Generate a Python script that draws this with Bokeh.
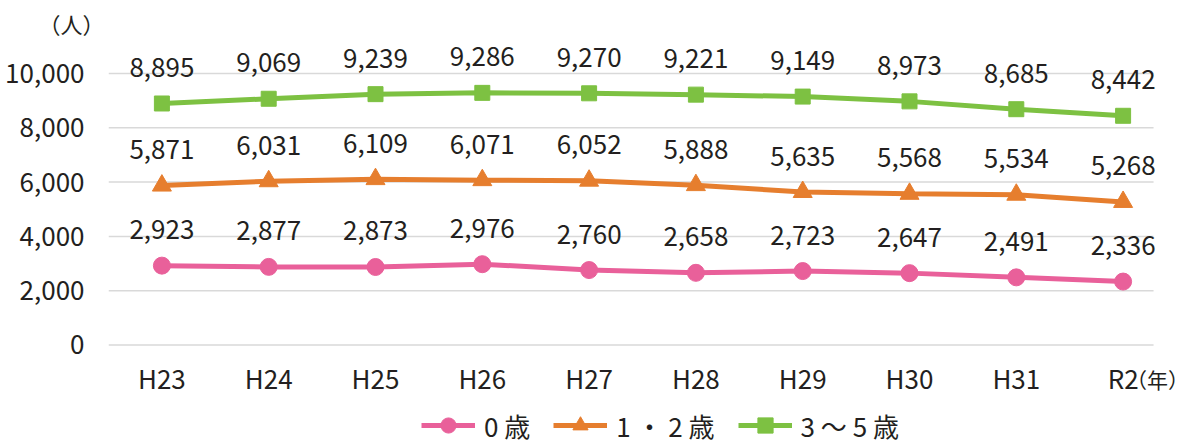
from bokeh.plotting import figure
from bokeh.models import Range1d, FixedTicker, Legend, LegendItem, NumeralTickFormatter
from bokeh.core.properties import value
from bokeh.embed import file_html
from bokeh.resources import INLINE

years = ["H23", "H24", "H25", "H26", "H27", "H28", "H29", "H30", "H31", "R2"]
age0 = [2923, 2877, 2873, 2976, 2760, 2658, 2723, 2647, 2491, 2336]
age12 = [5871, 6031, 6109, 6071, 6052, 5888, 5635, 5568, 5534, 5268]
age35 = [8895, 9069, 9239, 9286, 9270, 9221, 9149, 8973, 8685, 8442]
series_names = ["0 歳", "1 ・ 2 歳", "3 ～ 5 歳"]
y_ticks = [0, 2000, 4000, 6000, 8000, 10000]
y_unit = "（人）"
x_unit = "（年）"

FONT = "Noto Sans CJK JP"
TXT = "#231f20"
GRID = "#d9d9d9"
colors = ["#e9609a", "#e67e2e", "#7dc142"]
markers = ["circle", "triangle", "square"]
msizes = [17, 19, 15]

xs = list(range(len(years)))
X0, X_GRID_END, X1 = -0.5, 9.285, 9.631
Y0, Y1 = -3665, 11215

p = figure(width=1190, height=444, output_backend="svg", toolbar_location=None,
           x_range=Range1d(X0, X1), y_range=Range1d(Y0, Y1),
           min_border_left=108, min_border_right=0, min_border_top=40, min_border_bottom=0)
p.outline_line_color = None
p.background_fill_color = "white"
p.border_fill_color = "white"

p.title.text = y_unit
p.title.align = "left"
p.title.offset = -70
p.title.standoff = 3
p.title.text_font = FONT
p.title.text_font_size = "22px"
p.title.text_font_style = "normal"
p.title.text_color = TXT

p.xgrid.visible = False
p.ygrid.visible = False
# horizontal gridlines, limited to the plot area of the original chart
p.segment(x0=[X0] * len(y_ticks), x1=[X_GRID_END] * len(y_ticks), y0=y_ticks, y1=y_ticks,
          line_color=GRID, line_width=1.5)

p.yaxis.ticker = FixedTicker(ticks=y_ticks)
p.yaxis.formatter = NumeralTickFormatter(format="0,0")
p.xaxis.ticker = FixedTicker(ticks=xs)
p.xaxis.major_label_overrides = {i: y for i, y in enumerate(years)}
p.xaxis.fixed_location = 0
for ax in (p.xaxis[0], p.yaxis[0]):
    ax.axis_line_color = None
    ax.major_tick_line_color = None
    ax.minor_tick_line_color = None
    ax.major_label_text_font = FONT
    ax.major_label_text_font_size = "26px"
    ax.major_label_text_color = TXT
p.yaxis.major_label_standoff = 18
p.xaxis.major_label_standoff = 8

items = []
for vals, c, m, s, name in zip([age0, age12, age35], colors, markers, msizes, series_names):
    lr = p.line(xs, vals, line_color=c, line_width=5)
    sr = p.scatter(xs, vals, marker=m, size=s, fill_color=c, line_color=c)
    p.text(xs, vals, text=[f"{v:,}" for v in vals], text_align="center", text_baseline="middle",
           y_offset=-36, text_font=value(FONT), text_font_size="26px", text_color=TXT)
    items.append(LegendItem(label=name, renderers=[lr, sr]))

p.text(x=[xs[-1]], y=[0], text=[x_unit], x_offset=3, y_offset=34, text_align="left",
       text_baseline="middle", text_font=value(FONT), text_font_size="21px", text_color=TXT)

legend = Legend(items=items, orientation="horizontal", location=(313, 0),
                glyph_width=54, glyph_height=38, label_text_font=FONT,
                label_text_font_size="26px", label_text_color=TXT,
                spacing=23, padding=0, margin=0, label_standoff=9,
                border_line_color=None, background_fill_alpha=0)
p.add_layout(legend, "center")

open("out.html", "w").write(file_html(p, INLINE))
